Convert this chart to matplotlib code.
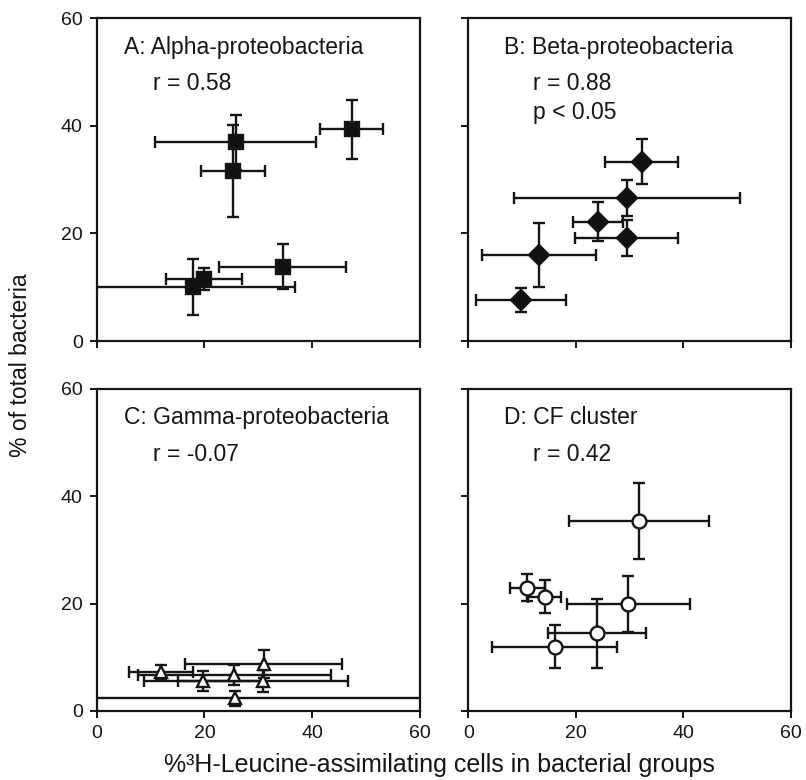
"""Four-panel scatter: % of total bacteria vs % 3H-leucine-assimilating cells."""
import matplotlib
matplotlib.use("Agg")
import matplotlib.pyplot as plt

plt.rcParams["font.family"] = ["Liberation Sans", "DejaVu Sans"]

# panel A: Alpha-proteobacteria
alpha_x = [47.3, 25.8, 25.3, 34.5, 19.9, 17.8]
alpha_xerr = [5.8, 14.9, 6.0, 11.8, 7.0, 19.1]
alpha_y = [39.3, 36.9, 31.6, 13.8, 11.5, 10.0]
alpha_yerr = [5.5, 5.1, 8.6, 4.2, 2.0, 5.2]

# panel B: Beta-proteobacteria
beta_x = [32.3, 29.5, 24.1, 29.5, 13.2, 9.8]
beta_xerr = [6.8, 21.0, 4.6, 9.6, 10.6, 8.3]
beta_y = [33.3, 26.6, 22.2, 19.1, 16.0, 7.6]
beta_yerr = [4.2, 3.3, 3.7, 3.4, 6.0, 2.3]

# panel C: Gamma-proteobacteria
gamma_x = [11.9, 19.8, 25.5, 31.0, 30.8, 25.7]
gamma_xerr = [6.0, 11.1, 17.9, 14.6, 15.8, 40.0]
gamma_y = [7.2, 5.6, 6.7, 8.7, 5.6, 2.4]
gamma_yerr = [1.4, 1.8, 1.9, 2.6, 2.0, 1.4]

# panel D: CF cluster
cf_x = [31.8, 11.0, 14.2, 29.8, 23.9, 16.1]
cf_xerr = [13.0, 3.2, 3.0, 11.4, 9.1, 11.6]
cf_y = [35.4, 23.0, 21.3, 20.0, 14.5, 12.0]
cf_yerr = [7.0, 2.5, 3.1, 5.2, 6.4, 4.0]

titles = ["A: Alpha-proteobacteria", "B: Beta-proteobacteria",
          "C: Gamma-proteobacteria", "D: CF cluster"]
stats = [["r = 0.58"], ["r = 0.88", "p < 0.05"], ["r = -0.07"], ["r = 0.42"]]
ticks = [0, 20, 40, 60]

panels = [
    (alpha_x, alpha_xerr, alpha_y, alpha_yerr, "s", "#111111", 10),
    (beta_x, beta_xerr, beta_y, beta_yerr, "D", "#111111", 10.5),
    (gamma_x, gamma_xerr, gamma_y, gamma_yerr, "^", "white", 9),
    (cf_x, cf_xerr, cf_y, cf_yerr, "o", "white", 10),
]

positions = [
    [0.120, 0.5628, 0.401, 0.4141],
    [0.581, 0.5628, 0.400, 0.4141],
    [0.120, 0.0885, 0.401, 0.4128],
    [0.581, 0.0885, 0.400, 0.4128],
]

fig = plt.figure(figsize=(8.06, 7.80), dpi=100)
ink = "#151515"

for i, (x, xe, y, ye, mk, fc, ms) in enumerate(panels):
    ax = fig.add_axes(positions[i])
    ax.errorbar(x, y, xerr=xe, yerr=ye, fmt=mk, ms=ms, mfc=fc, mec=ink,
                mew=1.7, color=ink, ecolor=ink, elinewidth=1.7,
                capsize=4, capthick=1.7, zorder=3)
    ax.set_xlim(0, 60); ax.set_ylim(0, 60)
    ax.set_xticks(ticks); ax.set_yticks(ticks)
    ax.tick_params(direction="out", length=5, width=1.4, labelsize=14,
                   colors=ink, pad=5)
    if i < 2:
        ax.set_xticklabels([])
    if i % 2 == 1:
        ax.set_yticklabels([])
    for s in ax.spines.values():
        s.set_linewidth(1.6); s.set_color(ink)
    tx = 5.1 if i % 2 == 0 else 6.7
    ax.text(tx, 54.6, titles[i], fontsize=16.5, va="center", color=ink)
    for k, line in enumerate(stats[i]):
        ax.text(tx + 5.4, 47.8 - 5.4 * k, line, fontsize=16.5, va="center",
                color=ink)

fig.text(0.025, 0.532, "% of total bacteria", rotation=90, fontsize=16.5,
         va="center", ha="center", color=ink)
fig.text(0.545, 0.019, "%\u00b3H-Leucine-assimilating cells in bacterial groups",
         fontsize=18, va="center", ha="center", color=ink)

plt.savefig("out.png", dpi=100)
plt.close(fig)
